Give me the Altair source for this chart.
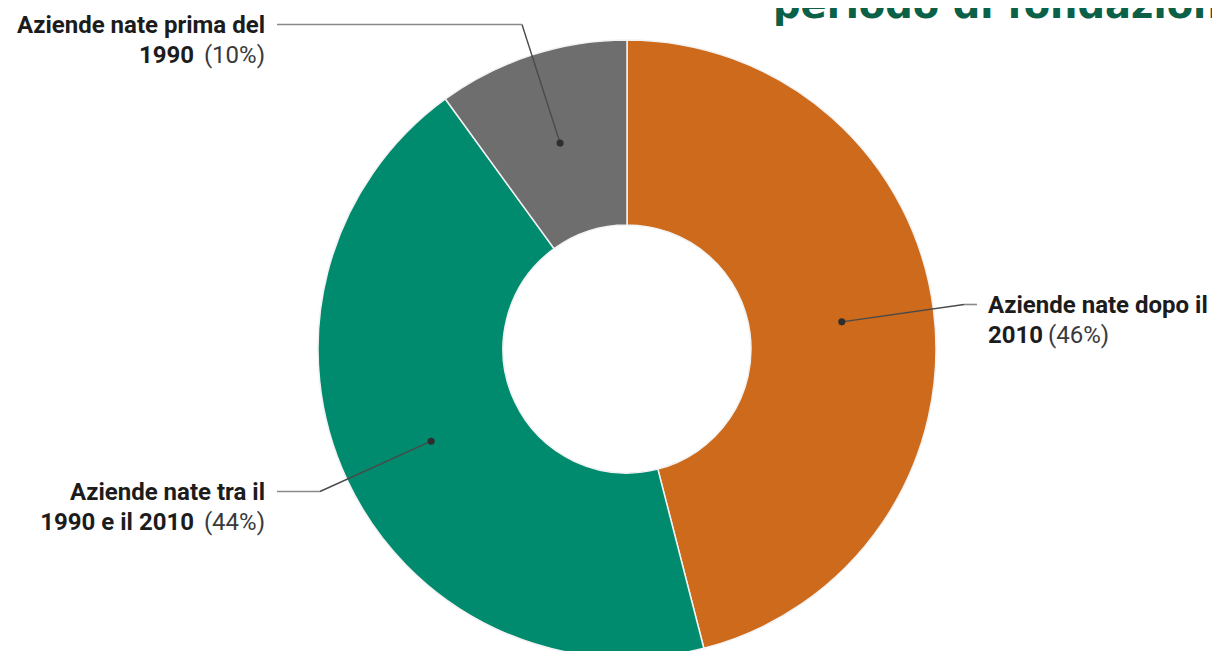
import altair as alt
import pandas as pd

# ---------------- data ----------------
keys = ["dopo", "tra", "prima"]
values = [46, 44, 10]
colors = ["#CD6A1B", "#008A6E", "#6E6E6E"]
line1 = ["Aziende nate dopo il", "Aziende nate tra il", "Aziende nate prima del"]
line2_bold = ["2010", "1990 e il 2010", "1990"]
line2_pct = ["(46%)", "(44%)", "(10%)"]
title_text = "periodo di fondazione"

# ---------------- layout (page pixels) ----------------
CX, CY = 627, 349
R_OUT, R_IN = 309, 124
R_DOT = (R_OUT + R_IN) / 2
label_align = ["left", "right", "right"]
label_x = [988, 265, 265]
label_base = [313, 500, 33]
elbow_x = [964, 320, 522]
elbow_y = [304.5, 491.5, 24.5]
line_end_x = [977, 277, 277]
bold2_x = [988, 194, 194]
pct_x = [1048, 265, 265]
LINE_GAP = 29.5

FONT = "Roboto"
FS = 24

df = pd.DataFrame({
    "key": keys, "value": values, "ord": [0, 1, 2],
    "line1": line1, "bold2": line2_bold, "pct": line2_pct,
    "align": label_align, "lx": label_x, "lb": label_base,
    "lb2": [b + LINE_GAP for b in label_base],
    "ex": elbow_x, "ey": elbow_y, "endx": line_end_x,
    "b2x": bold2_x, "px2": pct_x,
})

W, H = 1204, 643
xs = alt.Scale(domain=[8, 8 + W], nice=False, zero=False)
ys = alt.Scale(domain=[8, 8 + H], nice=False, zero=False, reverse=True)

base = alt.Chart(df)

arc = base.mark_arc(innerRadius=R_IN, outerRadius=R_OUT, stroke="#f2f2f2", strokeWidth=1.5).encode(
    theta=alt.Theta("value:Q", stack=True),
    color=alt.Color("key:N", scale=alt.Scale(domain=keys, range=colors), legend=None),
    order=alt.Order("ord:Q"),
    x=alt.XDatum(CX, scale=xs, axis=None),
    y=alt.YDatum(CY, scale=ys, axis=None),
)

pts = base.transform_joinaggregate(total="sum(value)").transform_window(
    cum="sum(value)", sort=[alt.SortField("ord")], frame=[None, 0]
).transform_calculate(
    mid="2*PI*(datum.cum - datum.value/2)/datum.total",
    px=f"{CX} + {R_DOT}*sin(datum.mid)",
    py=f"{CY} - {R_DOT}*cos(datum.mid)",
)

seg1 = pts.mark_rule(color="#4a4a4a", strokeWidth=1.4).encode(
    x=alt.X("px:Q", scale=xs, axis=None), y=alt.Y("py:Q", scale=ys, axis=None),
    x2="ex:Q", y2="ey:Q",
)
seg2 = base.mark_rule(color="#8a8a8a", strokeWidth=1.6).encode(
    x=alt.X("ex:Q", scale=xs, axis=None), y=alt.Y("ey:Q", scale=ys, axis=None),
    x2="endx:Q", y2="ey:Q",
)
dots = pts.mark_circle(size=50, color="#2e2e2e", opacity=1).encode(
    x=alt.X("px:Q", scale=xs, axis=None), y=alt.Y("py:Q", scale=ys, axis=None),
)

def txt(align, xfield, yfield, tfield, weight, color):
    return base.transform_filter(f"datum.align == '{align}'").mark_text(
        align=align, baseline="alphabetic", font=FONT, fontSize=FS,
        fontWeight=weight, color=color,
    ).encode(
        x=alt.X(f"{xfield}:Q", scale=xs, axis=None),
        y=alt.Y(f"{yfield}:Q", scale=ys, axis=None),
        text=f"{tfield}:N",
    )

texts = []
for a in ["left", "right"]:
    texts.append(txt(a, "lx", "lb", "line1", "bold", "#1c1c1c"))
    texts.append(txt(a, "b2x", "lb2", "bold2", "bold", "#1c1c1c"))
    texts.append(txt(a, "px2", "lb2", "pct", "normal", "#3a3a3a"))

title = alt.Chart(pd.DataFrame({"t": [title_text]})).mark_text(
    align="left", baseline="alphabetic", font="DejaVu Sans", fontSize=38.5,
    fontWeight="bold", color="#0B6148",
).encode(
    x=alt.XDatum(773, scale=xs, axis=None),
    y=alt.YDatum(18, scale=ys, axis=None),
    text="t:N",
)

chart = alt.layer(arc, seg1, seg2, dots, *texts, title).properties(
    width=W, height=H, padding=0, autosize="none"
).configure_view(stroke=None)

chart.save("out.html", embed_options={"renderer": "svg", "actions": False})
